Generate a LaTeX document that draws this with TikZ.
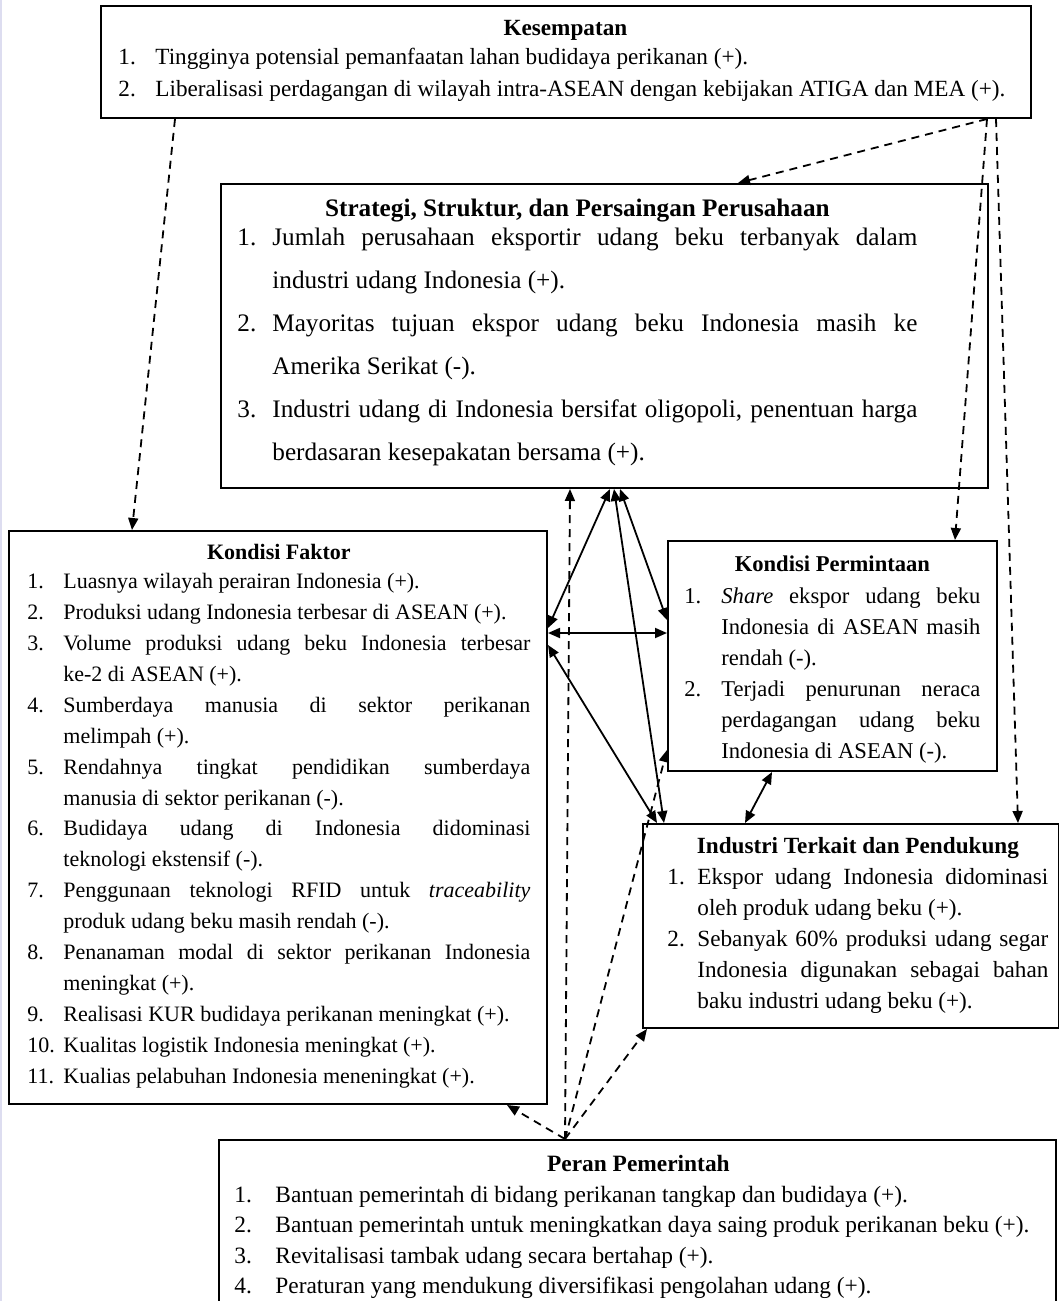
\documentclass[tikz,border=0pt]{standalone}
\usepackage{fontspec}
\setmainfont{Liberation Serif}
\usepackage{tikz}
\usetikzlibrary{arrows.meta,calc}
\definecolor{edgestrip}{RGB}{221,221,240}
\hyphenpenalty=10000
\exhyphenpenalty=10000
\tolerance=9999
\newlength\numwd
\newcommand\boxhead[2][0pt]{{\centering\bfseries #2\par}\vspace{#1}}
\newcommand\itm[2]{\hangindent=\numwd\hangafter=1\noindent\makebox[\numwd][l]{#1}#2\par}
\tikzset{
  frame/.style={draw, line width=1pt, inner sep=0pt, anchor=north west},
  txt/.style={inner sep=0pt, anchor=north west, align=justify},
  txtl/.style={inner sep=0pt, anchor=north west, align=flush left},
  link/.style={line width=0.9pt, {Triangle[length=6pt,width=5pt]}-{Triangle[length=6pt,width=5pt]}},
  hint/.style={line width=0.9pt, dash pattern=on 4pt off 3pt, -{Triangle[length=6pt,width=5pt]}}
}
\begin{document}
\begin{tikzpicture}[x=0.5pt, y=-0.5pt]
\useasboundingbox (0,0) rectangle (1059,1301);
\fill[edgestrip] (0,0) rectangle (2,1301);

\node[frame, minimum width=465pt, minimum height=56pt] (kes) at (100,5) {};
\node[frame, minimum width=383.5pt, minimum height=152pt] (ssp) at (220,183) {};
\node[frame, minimum width=269pt, minimum height=286.5pt] (kf) at (8,530) {};
\node[frame, minimum width=164.5pt, minimum height=115pt] (kp) at (667,540) {};
\node[frame, minimum width=208pt, minimum height=102pt] (itp) at (642,823) {};
\node[frame, minimum width=418.5pt, minimum height=90pt] (pp) at (218,1139) {};

\node[txtl, text width=447pt, font=\fontsize{11.6}{16}\selectfont] (kestxt) at (118,20) {\setlength\numwd{18.5pt}%
\boxhead[-1.5pt]{Kesempatan}
\itm{1.}{Tingginya potensial pemanfaatan lahan budidaya perikanan (+).}
\itm{2.}{Liberalisasi perdagangan di wilayah intra-ASEAN dengan kebijakan ATIGA dan MEA (+).}};

\node[txt, text width=340pt, font=\fontsize{12.6}{21.5}\selectfont] (ssptxt) at (237,199) {\setlength\numwd{17.5pt}%
\boxhead[-7pt]{Strategi, Struktur, dan Persaingan Perusahaan}
\itm{1.}{Jumlah perusahaan eksportir udang beku terbanyak dalam \linebreak industri udang Indonesia (+).}
\itm{2.}{Mayoritas tujuan ekspor udang beku Indonesia masih ke \linebreak Amerika Serikat (-).}
\itm{3.}{Industri udang di Indonesia bersifat oligopoli, penentuan harga \linebreak berdasaran kesepakatan bersama (+).}};

\node[txt, text width=251.5pt, font=\fontsize{11}{15.45}\selectfont] (kftxt) at (27,544) {\setlength\numwd{18pt}%
\boxhead[-0.9pt]{Kondisi Faktor}
\itm{1.}{Luasnya wilayah perairan Indonesia (+).}
\itm{2.}{Produksi udang Indonesia terbesar di ASEAN (+).}
\itm{3.}{Volume produksi udang beku Indonesia terbesar \linebreak ke-2 di ASEAN (+).}
\itm{4.}{Sumberdaya manusia di sektor perikanan \linebreak melimpah (+).}
\itm{5.}{Rendahnya tingkat pendidikan sumberdaya \linebreak manusia di sektor perikanan (-).}
\itm{6.}{Budidaya udang di Indonesia didominasi \linebreak teknologi ekstensif (-).}
\itm{7.}{Penggunaan teknologi RFID untuk \textit{traceability} \linebreak produk udang beku masih rendah (-).}
\itm{8.}{Penanaman modal di sektor perikanan Indonesia \linebreak meningkat (+).}
\itm{9.}{Realisasi KUR budidaya perikanan meningkat (+).}
\itm{10.}{Kualitas logistik Indonesia meningkat (+).}
\itm{11.}{Kualias pelabuhan Indonesia meneningkat (+).}};

\node[txt, text width=148pt, font=\fontsize{11.3}{15.5}\selectfont] (kptxt) at (684,555) {\setlength\numwd{18.5pt}%
\boxhead[0.5pt]{Kondisi Permintaan}
\itm{1.}{\textit{Share} ekspor udang beku \linebreak Indonesia di ASEAN masih \linebreak rendah (-).}
\itm{2.}{Terjadi penurunan neraca \linebreak perdagangan udang beku \linebreak Indonesia di ASEAN (-).}};

\node[txt, text width=190.5pt, font=\fontsize{11.6}{15.5}\selectfont] (itptxt) at (667,837) {\setlength\numwd{15pt}%
\boxhead{Industri Terkait dan Pendukung}
\itm{1.}{Ekspor udang Indonesia didominasi \linebreak oleh produk udang beku (+).}
\itm{2.}{Sebanyak 60\% produksi udang segar \linebreak Indonesia digunakan sebagai bahan \linebreak baku industri udang beku (+).}};

\node[txtl, text width=404pt, font=\fontsize{11.7}{15.25}\selectfont] (pptxt) at (234,1155) {\setlength\numwd{20.5pt}%
\boxhead{Peran Pemerintah}
\itm{1.}{Bantuan pemerintah di bidang perikanan tangkap dan budidaya (+).}
\itm{2.}{Bantuan pemerintah untuk meningkatkan daya saing produk perikanan beku (+).}
\itm{3.}{Revitalisasi tambak udang secara bertahap (+).}
\itm{4.}{Peraturan yang mendukung diversifikasi pengolahan udang (+).}};

\draw[hint] ($(kes.south west)+(75,0)$) -- ($(kf.north west)+(124,0)$);
\draw[hint] ($(kes.south west)+(887,0)$) -- ($(ssp.north west)+(518,0)$);
\draw[hint] ($(kes.south west)+(887,0)$) -- ($(kp.north west)+(288,0)$);
\draw[hint] ($(kes.south west)+(896,0)$) -- ($(itp.north west)+(376,0)$);

\draw[link] ($(ssp.south west)+(390,0)$) -- ($(kf.north east)+(0,98)$);
\draw[link] ($(ssp.south west)+(400,0)$) -- ($(kp.north west)+(0,80)$);
\draw[link] ($(kf.north east)+(0,103)$) -- ($(kp.north west)+(0,93)$);
\draw[link] ($(kf.north east)+(0,115)$) -- ($(itp.north west)+(15,0)$);
\draw[link] ($(ssp.south west)+(394,0)$) -- ($(itp.north west)+(22,0)$);
\draw[link] ($(kp.south west)+(105,0)$) -- ($(itp.north west)+(103,0)$);

\draw[hint] ($(pp.north west)+(347,0)$) -- ($(ssp.south west)+(350,0)$);
\draw[hint] ($(pp.north west)+(347,0)$) -- ($(kf.south east)+(-41,0)$);
\draw[hint] ($(pp.north west)+(347,0)$) -- ($(kp.south west)+(0,-22)$);
\draw[hint] ($(pp.north west)+(347,0)$) -- ($(itp.south west)+(5,0)$);
\end{tikzpicture}
\end{document}
